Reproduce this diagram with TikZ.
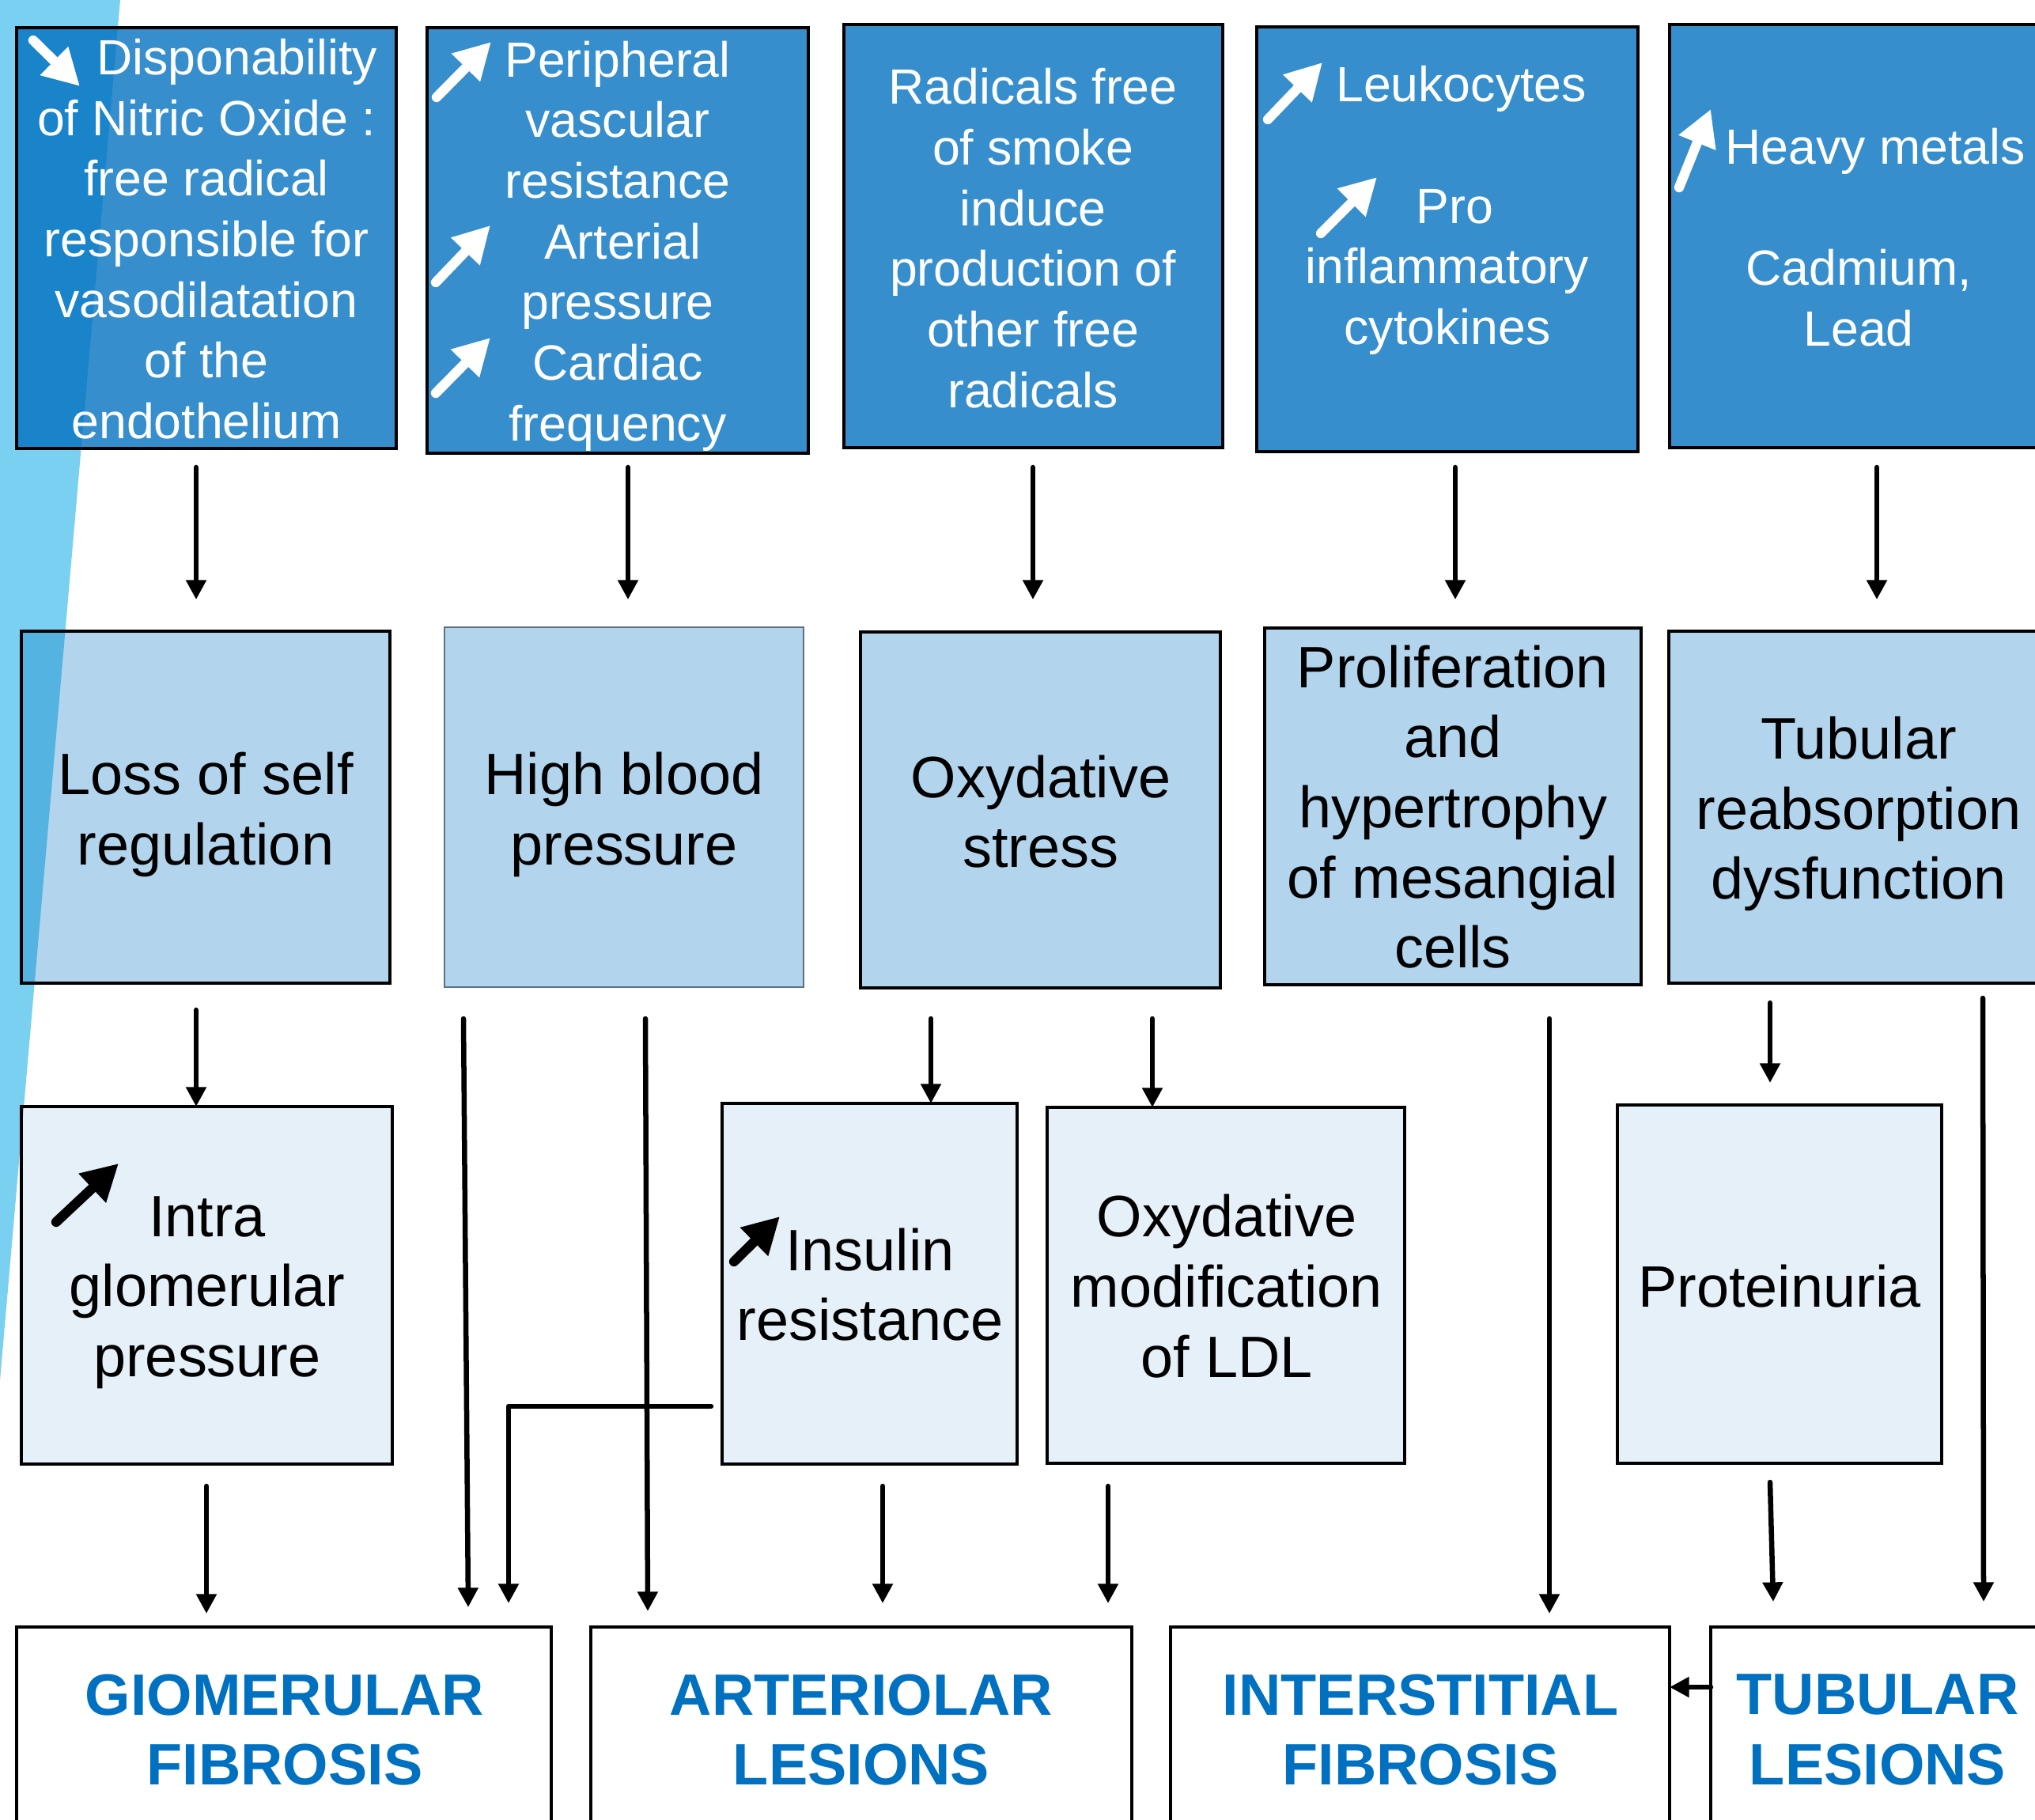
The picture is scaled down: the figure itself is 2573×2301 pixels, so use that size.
\documentclass[tikz,border=0pt]{standalone}
\usepackage{fontspec}
\setmainfont{Liberation Sans}
\usetikzlibrary{arrows.meta,fit}
\definecolor{bgblue}{RGB}{122,208,240}
\definecolor{pblue}{RGB}{0,112,192}
\definecolor{thingray}{RGB}{96,112,128}
\begin{document}
\begin{tikzpicture}[x=0.01cm, y=-0.01cm,
  frame/.style={draw=black, line width=1.15pt, inner sep=0pt, outer sep=0pt},
  darkbox/.style={frame, fill=pblue, fill opacity=0.79},
  midbox/.style={frame, fill=pblue, fill opacity=0.3},
  lightbox/.style={frame, fill=pblue, fill opacity=0.1},
  whitebox/.style={frame, fill=white},
  ttop/.style={text=white, align=center, inner sep=0pt, font=\fontsize{17.8}{21.8}\selectfont},
  tmid/.style={text=black, align=center, inner sep=0pt, font=\fontsize{21}{25.2}\selectfont},
  tbot/.style={text=pblue, align=center, inner sep=0pt, font=\bfseries\fontsize{21}{25.2}\selectfont},
  conn/.style={line width=1.85pt, line cap=round, line join=round, -{Triangle[length=7pt,width=7pt]}},
  upw/.style={line width=3.5pt, line cap=round, -{Triangle[length=13pt,width=13.5pt]}},
]
\useasboundingbox (0,0) rectangle (2573,2301);
\clip (0,0) rectangle (2573,2301);

% background stripe
\fill[bgblue] (0,0) -- (152,0) -- (0,1745) -- cycle;

% ---------- row 1 ----------
\node[darkbox, fit={(21,35) (501,567)}] (B1) {};
\node[darkbox, fit={(540,35) (1022,573)}] (B2) {};
\node[darkbox, fit={(1067,31) (1546,566)}] (B3) {};
\node[darkbox, fit={(1589,34) (2071,571)}] (B4) {};
\node[darkbox, fit={(2111,31) (2590,566)}] (B5) {};

\node[ttop] (B1t) at (261,302) {\hspace*{22pt}Disponability\\of Nitric Oxide :\\free radical\\responsible for\\vasodilatation\\of the\\endothelium};
\node[ttop] (B2t) at (781,311) {Peripheral\\vascular\\resistance\\\hspace*{3.5pt}Arterial\\pressure\\Cardiac\\frequency};
\node[ttop] (B3t) at (1306,301) {Radicals free\\of smoke\\induce\\production of\\other free\\radicals};
\node[ttop] (B4t) at (1830,266) {\hspace*{10pt}Leukocytes\\\mbox{}\\\hspace*{5.5pt}Pro\\inflammatory\\cytokines};
\node[ttop] (B5t) at (2350,300) {\hspace*{12pt}Heavy metals\\\mbox{}\\Cadmium,\\Lead};

% inline white arrows
\draw[upw, white] (42,51) -- (101,109);
\draw[upw, white] (552,123) -- (621,53);
\draw[upw, white] (551,357) -- (620,285);
\draw[upw, white] (551,497) -- (620,427);
\draw[upw, white] (1603,151) -- (1672,79);
\draw[upw, white] (1670,295) -- (1741,224);
\draw[upw, white] (2123,237) -- (2163,138);

% ---------- row 2 ----------
\node[midbox, fit={(27,798) (493,1243)}] (C1) {};
\node[frame, draw=thingray, line width=0.5pt, fill=pblue, fill opacity=0.3, fit={(562,793) (1016,1248)}] (C2) {};
\node[midbox, fit={(1088,799) (1543,1249)}] (C3) {};
\node[midbox, fit={(1599,794) (2075,1245)}] (C4) {};
\node[midbox, fit={(2110,798) (2589,1243)}] (C5) {};

\node[tmid] (C1t) at (260,1030) {Loss of self\\regulation};
\node[tmid] (C2t) at (789,1030) {High blood\\pressure};
\node[tmid] (C3t) at (1316,1026) {Oxydative\\stress};
\node[tmid] (C4t) at (1837,1020) {Proliferation\\and\\hypertrophy\\of mesangial\\cells};
\node[tmid] (C5t) at (2350,1029) {Tubular\\reabsorption\\dysfunction};

% ---------- row 3 ----------
\node[lightbox, fit={(27,1399) (496,1851)}] (D1) {};
\node[lightbox, fit={(913,1395) (1286,1851)}] (D2) {};
\node[lightbox, fit={(1324,1400) (1776,1850)}] (D3) {};
\node[lightbox, fit={(2045,1397) (2455,1850)}] (D4) {};

\node[tmid] (D1t) at (262,1634) {Intra\\glomerular\\pressure};
\node[tmid] (D2t) at (1100,1624) {Insulin\\resistance};
\node[tmid] (D3t) at (1551,1626) {Oxydative\\modification\\of LDL};
\node[tmid] (D4t) at (2250,1626) {Proteinuria};

\draw[upw, black] (71,1545) -- (150,1471);
\draw[upw, black] (928,1595) -- (986,1538);

% ---------- row 4 ----------
\node[whitebox, fit={(21,2057) (697,2360)}] (E1) {};
\node[whitebox, fit={(747,2057) (1431,2360)}] (E2) {};
\node[whitebox, fit={(1480,2057) (2111,2360)}] (E3) {};
\node[whitebox, fit={(2163,2057) (2585,2360)}] (E4) {};

\node[tbot] (E1t) at (360,2187) {GIOMERULAR\\FIBROSIS};
\node[tbot] (E2t) at (1089,2187) {ARTERIOLAR\\LESIONS};
\node[tbot] (E3t) at (1796,2187) {INTERSTITIAL\\FIBROSIS};
\node[tbot] (E4t) at (2374,2187) {TUBULAR\\LESIONS};

% ---------- connectors ----------
% row 1 -> row 2
\coordinate (a1s) at (248,591);  \coordinate (a1e) at (248,758);
\coordinate (a2s) at (794,591);  \coordinate (a2e) at (794,758);
\coordinate (a3s) at (1306,591); \coordinate (a3e) at (1306,758);
\coordinate (a4s) at (1840,591); \coordinate (a4e) at (1840,758);
\coordinate (a5s) at (2373,591); \coordinate (a5e) at (2373,758);
\draw[conn] (a1s) -- (a1e);
\draw[conn] (a2s) -- (a2e);
\draw[conn] (a3s) -- (a3e);
\draw[conn] (a4s) -- (a4e);
\draw[conn] (a5s) -- (a5e);

% row 2 -> row 3
\coordinate (b1s) at (248,1277);
\coordinate (b2s) at (1177,1288);
\coordinate (b3s) at (1457,1288);
\coordinate (b4s) at (2238,1268); \coordinate (b4e) at (2238,1369);
\draw[conn] (b1s) -- (b1s |- D1.north);
\draw[conn] (b2s) -- (b2s |- D2.north);
\draw[conn] (b3s) -- (b3s |- D3.north);
\draw[conn] (b4s) -- (b4e);

% long lines row 2 -> row 4
\coordinate (c1s) at (586,1288);  \coordinate (c1e) at (592,2032);
\coordinate (c2s) at (816,1288);  \coordinate (c2e) at (819,2037);
\coordinate (c3s) at (1959,1288); \coordinate (c3e) at (1959,2040);
\coordinate (c4s) at (2507,1262); \coordinate (c4e) at (2508,2025);
\draw[conn] (c1s) -- (c1e);
\draw[conn] (c2s) -- (c2e);
\draw[conn] (c3s) -- (c3e);
\draw[conn] (c4s) -- (c4e);

% insulin elbow
\coordinate (els) at (899,1778); \coordinate (elk) at (643,1778); \coordinate (ele) at (643,2027);
\draw[conn] (els) -- (elk) -- (ele);

% row 3 -> row 4
\coordinate (d1s) at (261,1879);  \coordinate (d1e) at (261,2040);
\coordinate (d2s) at (1116,1879); \coordinate (d2e) at (1116,2027);
\coordinate (d3s) at (1401,1879); \coordinate (d3e) at (1401,2027);
\coordinate (d4s) at (2238,1874); \coordinate (d4e) at (2242,2025);
\draw[conn] (d1s) -- (d1e);
\draw[conn] (d2s) -- (d2e);
\draw[conn] (d3s) -- (d3e);
\draw[conn] (d4s) -- (d4e);

% tubular -> interstitial
\coordinate (sm) at (2140,2133);
\draw[conn] (E4.west |- sm) -- (E3.east |- sm);
\end{tikzpicture}
\end{document}
